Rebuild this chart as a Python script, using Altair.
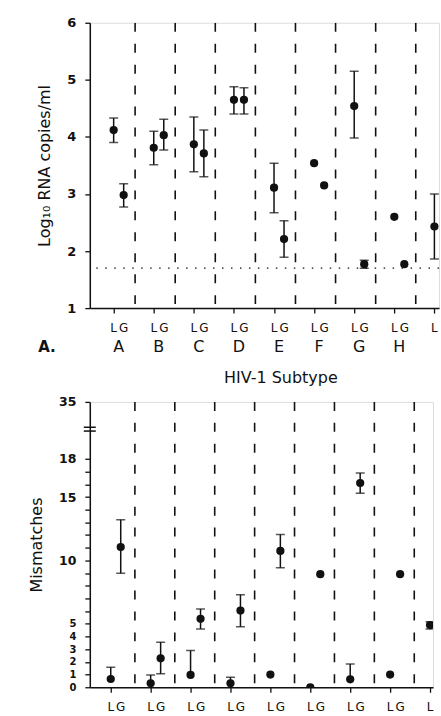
import altair as alt
import pandas as pd

# ---------------- data ----------------
subtypes = ["A", "B", "C", "D", "E", "F", "G", "H", "O"]

# Panel A: log10 RNA copies/ml  (L and G assays)
rna_L = [4.12, 3.81, 3.87, 4.65, 3.11, 3.54, 4.54, 2.60, 2.43]
rna_L_lo = [3.90, 3.51, 3.39, 4.40, 2.67, None, 3.98, None, 1.86]
rna_L_hi = [4.33, 4.10, 4.35, 4.88, 3.54, None, 5.15, None, 3.00]
rna_G = [2.98, 4.03, 3.71, 4.65, 2.21, 3.15, 1.77, 1.77, None]
rna_G_lo = [2.77, 3.77, 3.30, 4.40, 1.89, None, 1.70, None, None]
rna_G_hi = [3.18, 4.31, 4.12, 4.86, 2.53, None, 1.84, None, None]
detection_limit = [1.7]
rna_ticks = [1, 2, 3, 4, 5, 6]

# Panel B: mismatches
mm_L = [0.65, 0.31, 0.97, 0.31, 1.0, 0.0, 0.63, 1.0, 4.9]
mm_L_lo = [None, None, None, None, None, None, None, None, 4.6]
mm_L_hi = [1.57, 0.97, 2.9, 0.79, None, None, 1.83, None, 5.17]
mm_G = [11.05, 2.28, 5.4, 6.05, 10.75, 8.92, 16.1, 8.92, None]
mm_G_lo = [8.98, 1.07, 4.6, 4.77, 9.42, None, 15.3, None, None]
mm_G_hi = [13.2, 3.54, 6.17, 7.3, 12.05, None, 16.9, None, None]
mm_ticks = list(range(0, 19))
mm_labels = [0, 1, 2, 3, 4, 5, 10, 15, 18]
mm_break_value = 22.5      # position standing for 35 after the axis break
mm_break_label = "35"
mm_break_marks = [20.2, 20.5]

# ---------------- layout constants ----------------
H = 286
PAIR = 0.125
INK = "#111111"
FONT = "DejaVu Sans"


def long_table(L, Llo, Lhi, G, Glo, Ghi):
    rows = []
    for i, s in enumerate(subtypes):
        for tag, v, lo, hi, off in (("L", L[i], Llo[i], Lhi[i], -PAIR),
                                    ("G", G[i], Glo[i], Ghi[i], PAIR)):
            if v is None:
                continue
            rows.append(dict(sub=s, assay=tag, x=i + off, v=v,
                             lo=lo if lo is not None else v,
                             hi=hi if hi is not None else v,
                             has_lo=lo is not None, has_hi=hi is not None))
    return pd.DataFrame(rows)


def y_axis(values, label_size, extra):
    return alt.Axis(values=values, grid=False, tickSize=5, labelPadding=9, labelOverlap=False,
                    labelFont=FONT, labelFontSize=label_size, labelColor=INK, labelFontWeight="bold",
                    titleFont=FONT, titleFontSize=16, titleFontWeight="normal", titleColor=INK,
                    titlePadding=14, domainColor=INK, tickColor=INK, domainWidth=1.5, tickWidth=1.3,
                    **extra)


def panel(df, ys, yaxis, ytitle, xdomain, width, sep_off, xtitle, extra_layers, with_letters, lg_dy):
    xs = alt.Scale(domain=xdomain, nice=False, zero=False)
    tick_vals = []
    for i in range(len(subtypes)):
        tick_vals += [i - PAIR, i + PAIR]
    tick_vals = [t for t in tick_vals if t <= xdomain[1]]
    xaxis = alt.Axis(values=tick_vals, labels=False, ticks=True, tickSize=5,
                     grid=False, title=xtitle if xtitle else None,
                     domainColor=INK, tickColor=INK, domainWidth=1.5, tickWidth=1.3,
                     titleFont=FONT, titleFontSize=16, titleFontWeight="normal",
                     titleColor=INK, titlePadding=56, titleX=191, titleAlign="center")
    Y = lambda f: alt.Y(f, scale=ys, axis=yaxis, title=ytitle)
    base = alt.Chart(df)
    seps_df = pd.DataFrame({"s": [i + sep_off for i in range(len(subtypes)) if i + sep_off < xdomain[1]]})
    seps = alt.Chart(seps_df).mark_rule(
        color=INK, strokeWidth=1.6, strokeDash=[9, 12], clip=True
    ).encode(x=alt.X("s:Q", scale=xs, axis=xaxis))
    err = base.transform_filter("datum.has_hi || datum.has_lo").mark_rule(
        color=INK, strokeWidth=1.5, clip=True
    ).encode(x=alt.X("x:Q", scale=xs), y=Y("lo:Q"), y2="hi:Q")
    cap_hi = base.transform_filter("datum.has_hi").mark_tick(
        orient="horizontal", size=9, thickness=1.5, color=INK, clip=True
    ).encode(x=alt.X("x:Q", scale=xs), y=Y("hi:Q"))
    cap_lo = base.transform_filter("datum.has_lo").mark_tick(
        orient="horizontal", size=9, thickness=1.5, color=INK, clip=True
    ).encode(x=alt.X("x:Q", scale=xs), y=Y("lo:Q"))
    pts = base.mark_point(filled=True, size=68, color=INK, opacity=1, clip=True).encode(
        x=alt.X("x:Q", scale=xs), y=Y("v:Q"))
    # "L" / "G" assay labels under each tick
    lg_rows = []
    for i in range(len(subtypes)):
        for tag, off in (("L", -PAIR), ("G", PAIR)):
            if i + off <= xdomain[1]:
                lg_rows.append(dict(x=i + off, t=tag))
    lg = alt.Chart(pd.DataFrame(lg_rows)).mark_text(
        font=FONT, fontSize=12, color=INK, baseline="middle").encode(
        x=alt.X("x:Q", scale=xs), y=alt.value(H + lg_dy), text="t:N")
    layers = [seps, *extra_layers, err, cap_hi, cap_lo, pts, lg]
    if with_letters:
        let_df = pd.DataFrame({"i": list(range(len(subtypes))), "sub": subtypes})
        let_df = let_df[let_df["i"] + 0.2 <= xdomain[1]]
        layers.append(alt.Chart(let_df).mark_text(font=FONT, fontSize=16, color=INK, baseline="middle").encode(
            x=alt.X("i:Q", scale=xs), y=alt.value(H + 39), text="sub:N"))
    return alt.layer(*layers).properties(width=width, height=H)


# ---------------- panel A ----------------
dfA = long_table(rna_L, rna_L_lo, rna_L_hi, rna_G, rna_G_lo, rna_G_hi)
ysA = alt.Scale(domain=[1, 6], nice=False, zero=False)
yaxisA = y_axis(rna_ticks, 13, {"format": "d"})
titleA = "Log₁₀ RNA copies/ml"
dotted = alt.Chart(pd.DataFrame({"y": detection_limit})).mark_rule(
    color=INK, strokeWidth=1.4, strokeDash=[1.5, 7.5]).encode(
    y=alt.Y("y:Q", scale=ysA, axis=yaxisA, title=titleA))
panel_label = alt.Chart(pd.DataFrame({"t": ["A."]})).mark_text(
    font=FONT, fontSize=15, fontWeight="bold", color=INK, baseline="middle", align="center"
).encode(x=alt.value(-43), y=alt.value(H + 39), text="t:N")
top = panel(dfA, ysA, yaxisA, titleA, [-0.72, 7.99], 350, 0.41, "HIV-1 Subtype",
            [dotted, panel_label], True, 20)

# ---------------- panel B ----------------
dfB = long_table(mm_L, mm_L_lo, mm_L_hi, mm_G, mm_G_lo, mm_G_hi)
ysB = alt.Scale(domain=[0, mm_break_value], nice=False, zero=False)
label_test = " || ".join(f"datum.value == {v}" for v in mm_labels)
yaxisB = y_axis(mm_ticks + [mm_break_value],
                {"condition": {"test": "datum.value <= 5", "value": 10}, "value": 12.5},
                {"labelExpr": f"datum.value == {mm_break_value} ? '{mm_break_label}' : (({label_test}) ? datum.label : '')"})
brk = alt.Chart(pd.DataFrame({"y": mm_break_marks})).mark_rule(color=INK, strokeWidth=1.5).encode(
    y=alt.Y("y:Q", scale=ysB, axis=yaxisB, title="Mismatches"), x=alt.value(-6), x2=alt.value(6))
bottom = panel(dfB, ysB, yaxisB, "Mismatches", [-0.65, 7.95], 344, 0.48, None, [brk], False, 20)

chart = alt.vconcat(top, bottom, spacing=8).properties(
    padding={"left": 28, "top": 15, "right": 0, "bottom": 0}
).configure_view(stroke=None).configure(background="white")

chart.save("out.html", embed_options={"renderer": "svg", "actions": False})
